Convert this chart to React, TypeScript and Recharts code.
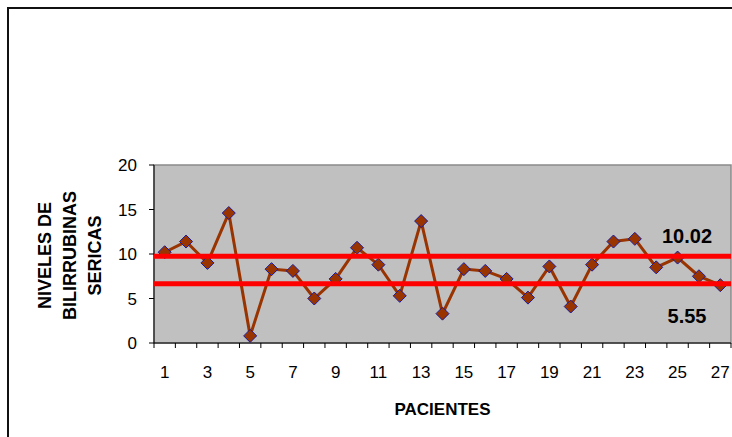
import React from 'react'
import {
  LineChart,
  Line,
  XAxis,
  YAxis,
  ReferenceArea,
  ReferenceLine,
} from 'recharts'

// patient number and serum bilirubin reading
const pacientes = [1, 2, 3, 4, 5, 6, 7, 8, 9, 10, 11, 12, 13, 14, 15, 16, 17, 18, 19, 20, 21, 22, 23, 24, 25, 26, 27]
const bilirrubina = [10.2, 11.4, 9.0, 14.6, 0.8, 8.3, 8.1, 5.0, 7.2, 10.7, 8.8, 5.3, 13.7, 3.3, 8.3, 8.1, 7.2, 5.1, 8.6, 4.1, 8.8, 11.4, 11.7, 8.5, 9.6, 7.5, 6.5]

const xLabels = [1, 3, 5, 7, 9, 11, 13, 15, 17, 19, 21, 23, 25, 27]
const yTicks = [0, 5, 10, 15, 20]

// the two red limit lines (drawn where they sit in the picture) and their captions
const limiteSuperior = 9.75
const limiteInferior = 6.65
const etiquetaSuperior = '10.02'
const etiquetaInferior = '5.55'

const yTitle = ['NIVELES DE', 'BILIRRUBINAS', 'SERICAS']
const xTitle = 'PACIENTES'

const data = pacientes.map((p, i) => ({ paciente: p, valor: bilirrubina[i] }))

// label ticks on the odd patients, tick marks between categories
const xTicks = [...pacientes.map((p) => p - 0.5), pacientes[pacientes.length - 1] + 0.5, ...xLabels]

const FONT = '"Liberation Sans", Arial, sans-serif'

function XTick(props: any) {
  const { x, y, payload } = props
  const v = payload.value
  if (v % 1 !== 0) {
    return <line x1={x} y1={y} x2={x} y2={y + 5} stroke="#000" strokeWidth={1} />
  }
  return (
    <text x={x} y={y + 35} textAnchor="middle" fontSize={17} fontFamily={FONT} fill="#000">
      {v}
    </text>
  )
}

function Diamond(props: any) {
  const { cx, cy, index } = props
  if (cx == null || cy == null) return <g key={index} />
  const r = 6.5
  return (
    <path
      key={index}
      d={`M${cx},${cy - r}L${cx + r},${cy}L${cx},${cy + r}L${cx - r},${cy}Z`}
      fill="#993300"
      stroke="#1a1a99"
      strokeWidth={1}
    />
  )
}

function limitLabel(text: string, dy: number) {
  return (props: any) => {
    const vb = props.viewBox
    return (
      <text
        x={vb.x + vb.width - 44}
        y={vb.y + dy}
        textAnchor="middle"
        fontSize={20}
        fontWeight="bold"
        fontFamily={FONT}
        fill="#000"
      >
        {text}
      </text>
    )
  }
}

export default function App() {
  return (
    <>
      <style>{`body{margin:0;overflow:hidden;background:#fff}`}</style>
      <div
        style={{
          position: 'relative',
          marginLeft: 7,
          marginTop: 7,
          width: 740,
          height: 440,
          borderLeft: '2px solid #111',
          borderTop: '2px solid #111',
          fontFamily: FONT,
        }}
      >
        {/* rotated y-axis title */}
        <div
          style={{
            position: 'absolute',
            left: 70 - 9 - 100,
            top: 255 - 9 - 37.5,
            width: 200,
            height: 75,
            transform: 'rotate(-90deg)',
            textAlign: 'center',
            fontSize: 18,
            fontWeight: 'bold',
            lineHeight: '25px',
            color: '#000',
          }}
        >
          {yTitle.map((t) => (
            <div key={t}>{t}</div>
          ))}
        </div>

        <LineChart
          width={723}
          height={428}
          data={data}
          margin={{ top: 156, right: 1, bottom: 14, left: 0 }}
        >
          <XAxis
            dataKey="paciente"
            type="number"
            domain={[0.5, 27.5]}
            ticks={xTicks}
            interval={0}
            allowDecimals
            tick={<XTick />}
            tickLine={false}
            tickSize={0}
            tickMargin={0}
            height={80}
            axisLine={{ stroke: '#000', strokeWidth: 1 }}
            label={{
              value: xTitle,
              position: 'insideBottom',
              offset: 8,
              style: { fontSize: 17, fontWeight: 'bold', fill: '#000', fontFamily: FONT },
            }}
          />
          <YAxis
            domain={[0, 20]}
            ticks={yTicks}
            interval={0}
            width={145}
            tickSize={5}
            tickMargin={12}
            tick={{ fontSize: 17, fill: '#000', fontFamily: FONT }}
            tickLine={{ stroke: '#000' }}
            axisLine={{ stroke: '#000', strokeWidth: 1 }}
          />
          <ReferenceArea
            x1={0.5}
            x2={27.5}
            y1={0}
            y2={20}
            fill="#C0C0C0"
            fillOpacity={1}
            stroke="#8a8a8a"
            strokeWidth={1.5}
            ifOverflow="visible"
          />
          <Line
            type="linear"
            dataKey="valor"
            stroke="#993300"
            strokeWidth={3}
            dot={<Diamond />}
            activeDot={false}
            isAnimationActive={false}
          />
          <ReferenceLine
            y={limiteSuperior}
            stroke="#FF0000"
            strokeWidth={5}
            zIndex={1500}
            label={limitLabel(etiquetaSuperior, -13)}
          />
          <ReferenceLine
            y={limiteInferior}
            stroke="#FF0000"
            strokeWidth={5}
            zIndex={1500}
            label={limitLabel(etiquetaInferior, 39)}
          />
        </LineChart>
      </div>
    </>
  )
}
